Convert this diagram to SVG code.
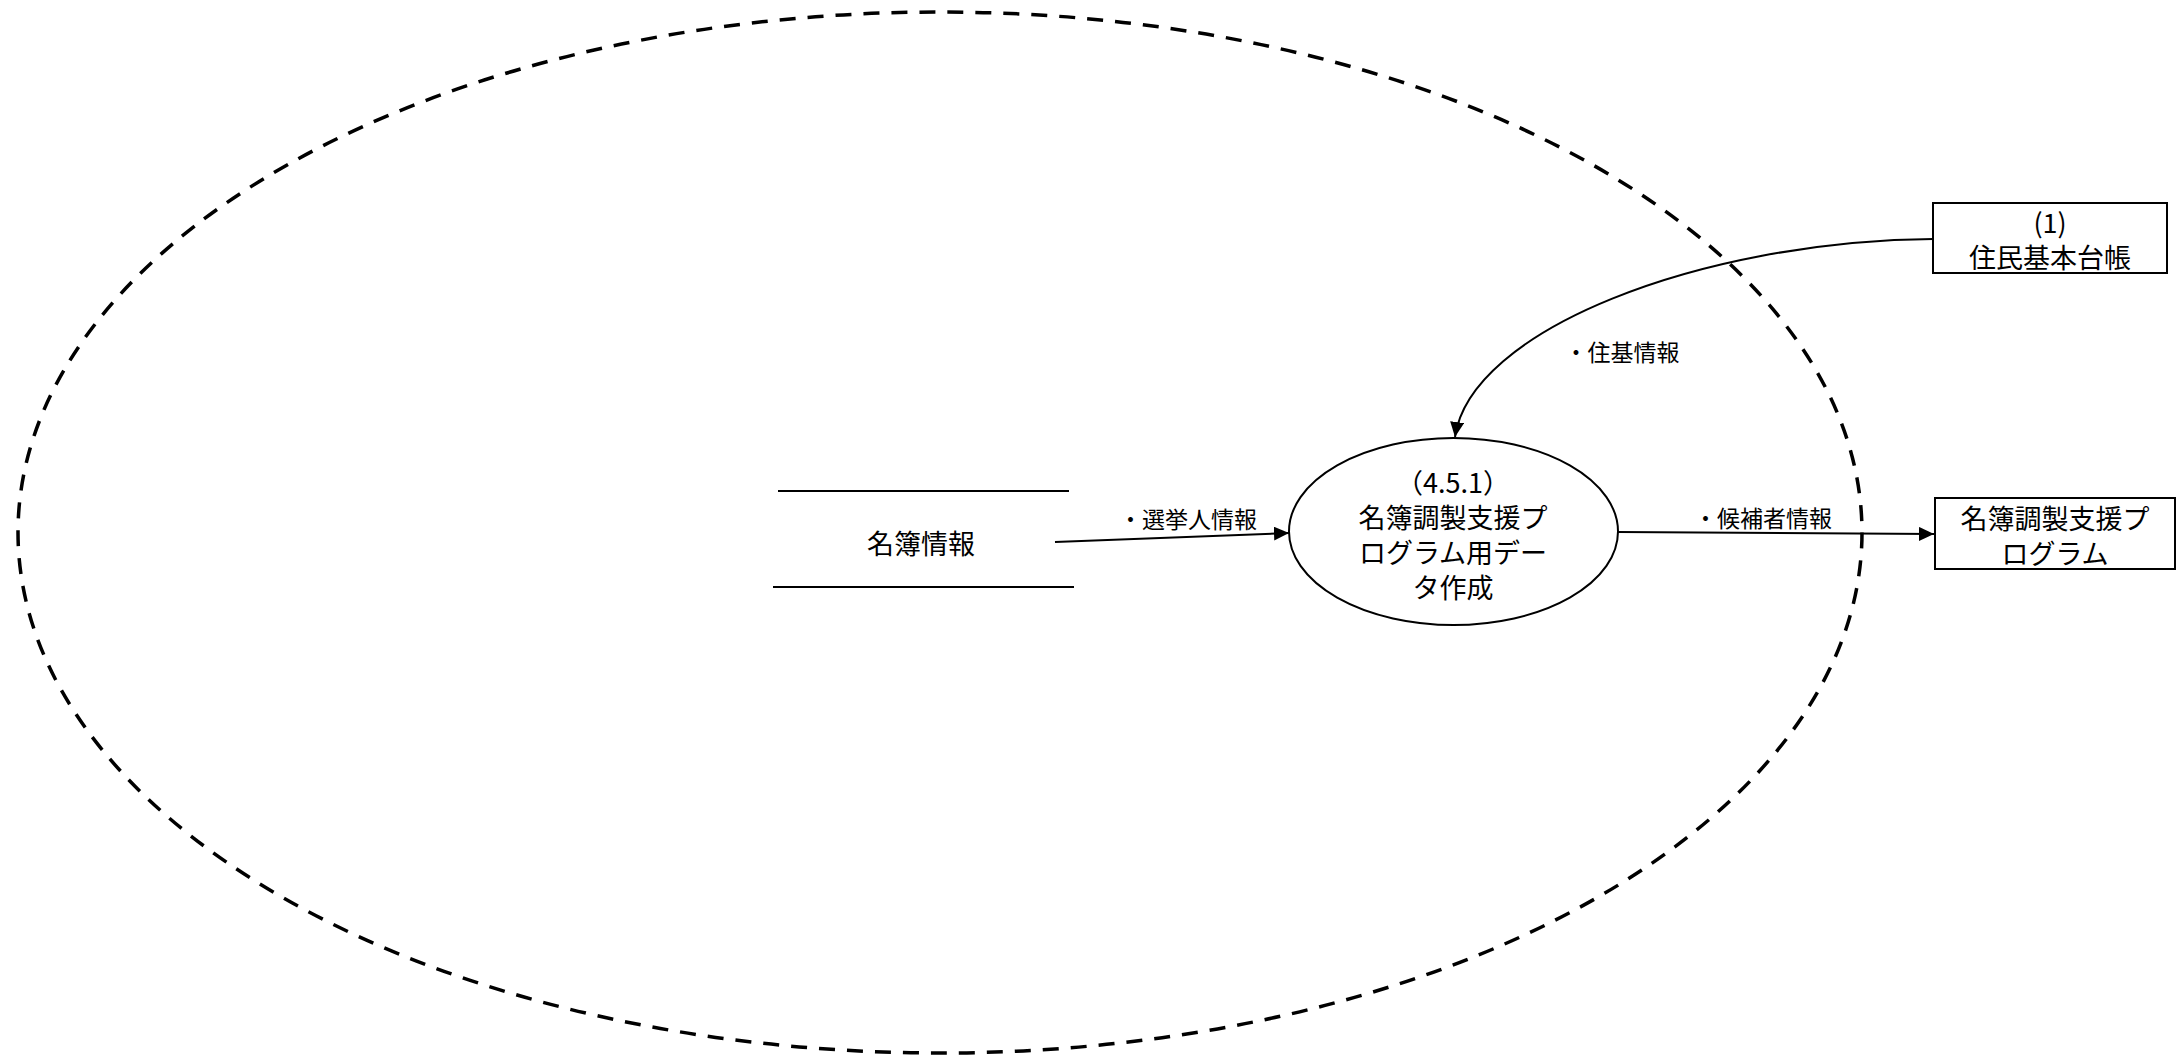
<svg xmlns="http://www.w3.org/2000/svg" width="2183" height="1058" viewBox="0 0 2183 1058">
<style>
text{font-family:"Noto Sans CJK JP","Noto Sans",sans-serif;fill:#000;text-anchor:middle;dominant-baseline:central}
.n{font-size:27px}
.l{font-size:23px}
.s{fill:none;stroke:#000;stroke-width:2}
.c{fill:none;stroke:#000;stroke-width:2;marker-end:url(#ah)}
</style>
<defs>
<marker id="ah" markerUnits="userSpaceOnUse" markerWidth="16" markerHeight="16" refX="15" refY="7" orient="auto">
<path d="M0,0 L15,7 L0,14 z" fill="#000"/>
</marker>
</defs>
<rect width="2183" height="1058" fill="#fff"/>
<g id="boundary">
<ellipse cx="940" cy="532.5" rx="922" ry="520.5" fill="none" stroke="#000" stroke-width="3.5" stroke-dasharray="16 12"/>
</g>
<g id="connectors">
<path class="c" d="M1933,239 C1700,241 1470,330 1455,437"/>
<text class="l" x="1622" y="351">・住基情報</text>
<path class="c" d="M1055,542 L1289,533"/>
<text class="l" x="1188" y="518">・選挙人情報</text>
<path class="c" d="M1618,532 L1934,534"/>
<text class="l" x="1763" y="517">・候補者情報</text>
</g>
<g id="node-store">
<line class="s" x1="778" y1="491" x2="1069" y2="491"/>
<line class="s" x1="773" y1="587" x2="1074" y2="587"/>
<text class="n" x="921" y="542">名簿情報</text>
</g>
<g id="node-process">
<ellipse class="s" cx="1453.5" cy="531.5" rx="164.5" ry="93.5" fill="#fff"/>
<text class="n" x="1453" y="481">（4.5.1）</text>
<text class="n" x="1453" y="516">名簿調製支援プ</text>
<text class="n" x="1453" y="551">ログラム用デー</text>
<text class="n" x="1453" y="586">タ作成</text>
</g>
<g id="node-juki">
<rect class="s" x="1933" y="203" width="234" height="70" fill="#fff"/>
<text class="n" x="2050" y="221">(1)</text>
<text class="n" x="2050" y="256">住民基本台帳</text>
</g>
<g id="node-program">
<rect class="s" x="1935" y="498" width="240" height="71" fill="#fff"/>
<text class="n" x="2055" y="517">名簿調製支援プ</text>
<text class="n" x="2055" y="552">ログラム</text>
</g>
</svg>
